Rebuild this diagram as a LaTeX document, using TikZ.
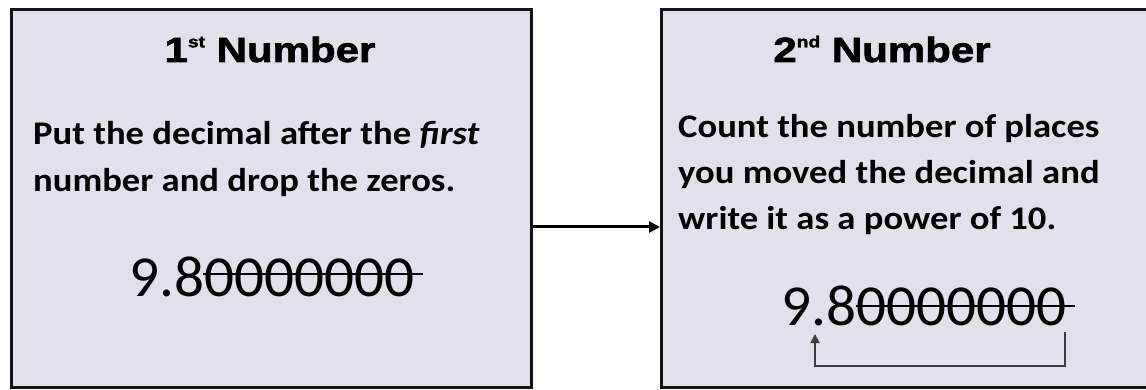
\documentclass[tikz,border=0pt]{standalone}
\usepackage{fontspec}
\setmainfont{Carlito}
\newfontfamily\bodyfont[FakeStretch=1.11]{Carlito}
\newfontfamily\numfont[FakeStretch=1.02]{Carlito}
\newfontfamily\titlefont[FakeStretch=1.2,FakeBold=2]{Liberation Sans}
\usetikzlibrary{arrows.meta,calc}
\definecolor{boxfill}{RGB}{227,223,235}
\definecolor{boxline}{RGB}{20,20,20}
\definecolor{bracket}{RGB}{60,60,60}
\tikzset{
  panel/.style={draw=boxline, line width=3pt, fill=boxfill, rectangle, inner sep=0pt},
  ttl/.style={font=\titlefont\bfseries\fontsize{35}{35}\selectfont, anchor=base, inner sep=0pt},
  body/.style={font=\bodyfont\bfseries\fontsize{33}{33}\selectfont, anchor=base west, inner sep=0pt},
  num/.style={font=\numfont\fontsize{58}{58}\selectfont, anchor=base west, inner sep=0pt},
  strike/.style={line width=2.2pt, black},
  link/.style={line width=3pt, -{Triangle[length=11pt,width=11pt]}},
  brk/.style={line width=1.8pt, bracket, -{Triangle[length=9pt,width=9pt]}}
}
\newcommand{\sups}[1]{\raisebox{0.42em}{\fontsize{16}{16}\selectfont #1}}
\begin{document}
\begin{tikzpicture}[x=1pt,y=-1pt]
\useasboundingbox (0,0) rectangle (1146,390);
\clip (0,0) rectangle (1146,390);
\fill[white] (0,0) rectangle (1146,390);
% panels
\node[panel, minimum width=520pt, minimum height=378pt, anchor=north west] (box1) at (10,8) {};
\node[panel, minimum width=520pt, minimum height=378pt, anchor=north west] (box2) at (660,8) {};
% connector
\draw[link] (box1.east |- 0,227) -- (box2.west |- 0,227);
% box 1 texts
\node[ttl] (t1) at (270,62) {1\sups{st} Number};
\node[body] (b1a) at (33,145) {Put the decimal after the \textit{first}};
\node[body] (b1b) at (33,192) {number and drop the zeros.};
\node[num] (n1) at (129,296) {9.80000000};
\draw[strike] (203,274) -- (423,274);
% box 2 texts
\node[ttl] (t2) at (882,62) {2\sups{nd} Number};
\node[body] (b2a) at (678,138) {Count the number of places};
\node[body] (b2b) at (678,184) {you moved the decimal and};
\node[body] (b2c) at (678,230) {write it as a power of 10.};
\node[num] (n2) at (781,325) {9.80000000};
\draw[strike] (856,306) -- (1075,306);
% bracket arrow
\coordinate (bs) at (1065,332);
\coordinate (bc1) at (1065,366);
\coordinate (bc2) at (815,366);
\coordinate (be) at (815,334);
\draw[brk] (bs) -- (bc1) -- (bc2) -- (be);
\end{tikzpicture}
\end{document}
